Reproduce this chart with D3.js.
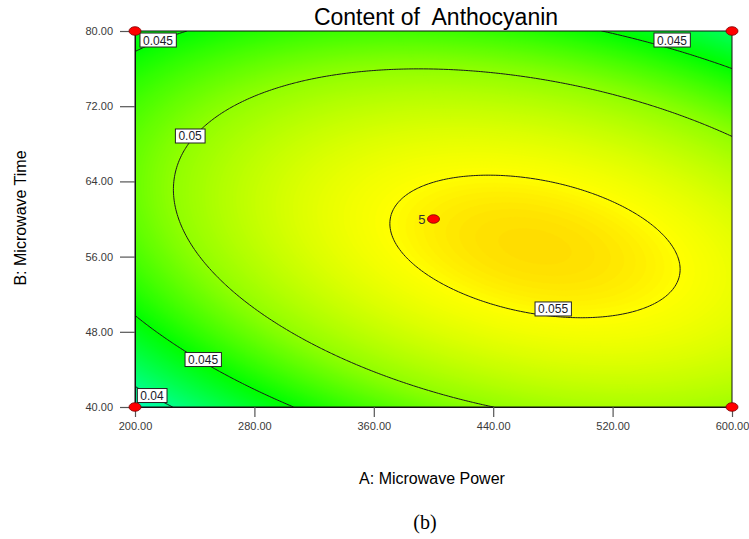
<!DOCTYPE html>
<html><head><meta charset="utf-8">
<script src="https://cdn.jsdelivr.net/npm/d3@7"></script>
<style>body{margin:0;background:#fff}</style>
</head><body>
<svg id="chart" width="749" height="539"></svg>
<script>
// ---------- data ----------
const title = "Content of  Anthocyanin";
const xLabel = "A: Microwave Power";
const yLabel = "B: Microwave Time";
const caption = "(b)";
const xTicks = [200, 280, 360, 440, 520, 600];
const yTicks = [40, 48, 56, 64, 72, 80];
// quadratic response-surface model in coded units: A=(power-400)/200, B=(time-60)/20
const modelTerms = ["Intercept", "A", "B", "AB", "A^2", "B^2"];
const modelCoefficients = [0.055463, 0.002535, -0.000909, -0.003721, -0.004527, -0.007444];
const contourLevels = [0.04, 0.045, 0.05, 0.055];
const labelText = ["0.045", "0.045", "0.05", "0.045", "0.04", "0.055"];
const labelPower = [215.4, 559.8, 236.9, 245.6, 211.4, 480.1];
const labelTime = [79.04, 79.04, 68.83, 45.05, 41.22, 50.43];
const designPower = [200, 200, 600, 600, 400];
const designTime = [40, 80, 40, 80, 60];
const designReplicates = [1, 1, 1, 1, 5];

// ---------- layout ----------
const svg = d3.select("#chart");
const L = 135, T = 31, W = 597, H = 376;
const xs = d3.scaleLinear().domain([200, 600]).range([L, L + W]);
const ys = d3.scaleLinear().domain([40, 80]).range([T + H, T]);
const sans = "Arial, 'Liberation Sans', sans-serif";

function model(p, t) {
  const A = (p - 400) / 200, B = (t - 60) / 20;
  const c = modelCoefficients;
  return c[0] + c[1] * A + c[2] * B + c[3] * A * B + c[4] * A * A + c[5] * B * B;
}

const nx = 241, ny = 161;
const values = new Array(nx * ny);
for (let j = 0; j < ny; j++) for (let i = 0; i < nx; i++) {
  values[j * nx + i] = model(200 + i * 400 / (nx - 1), 40 + j * 40 / (ny - 1));
}
const proj = d3.geoTransform({
  point: function (x, y) {
    this.stream.point(xs(200 + (x - 0.5) * 400 / (nx - 1)), ys(40 + (y - 0.5) * 40 / (ny - 1)));
  }
});
const path = d3.geoPath(proj);

const hue = d3.scaleLinear().domain([0.0385, 0.045, 0.05, 0.055, 0.0562]).range([162, 120, 86, 60, 50]).clamp(true);
const colorOf = v => d3.hsl(hue(v), 1, 0.5).toString();

svg.append("defs").append("clipPath").attr("id", "clip")
  .append("rect").attr("x", L).attr("y", T).attr("width", W).attr("height", H);

const plot = svg.append("g").attr("clip-path", "url(#clip)");
const step = 0.0001;
const bands = d3.range(0.036, 0.0565, step);
const contours = d3.contours().size([nx, ny]).thresholds(bands)(values);
plot.append("g").selectAll("path").data(contours).join("path")
  .attr("d", path)
  .attr("fill", d => colorOf(d.value + step / 2))
  .attr("stroke", d => colorOf(d.value + step / 2))
  .attr("stroke-width", 0.6);

const lines = d3.contours().size([nx, ny]).thresholds(contourLevels)(values);
plot.append("g").selectAll("path").data(lines).join("path")
  .attr("d", path)
  .attr("fill", "none")
  .attr("stroke", "#1a1a1a")
  .attr("stroke-width", 1);

// frame
svg.append("rect").attr("x", L).attr("y", T).attr("width", W).attr("height", H)
  .attr("fill", "none").attr("stroke", "#111").attr("stroke-width", 1);

// axes
const yAxis = d3.axisLeft(ys).tickValues(yTicks).tickFormat(d3.format(".2f")).tickSize(15).tickSizeOuter(0).tickPadding(7);
const gy = svg.append("g").attr("transform", `translate(${L},0)`).call(yAxis);
const xAxis = d3.axisBottom(xs).tickValues(xTicks).tickFormat(d3.format(".2f")).tickSize(10).tickSizeOuter(0).tickPadding(5);
const gx = svg.append("g").attr("transform", `translate(0,${T + H})`).call(xAxis);
[gx, gy].forEach(g => {
  g.select(".domain").attr("stroke", "#111");
  g.selectAll(".tick line").attr("stroke", "#555").attr("stroke-width", 1.2);
  g.selectAll(".tick text").attr("fill", "#3a3a3a").style("font", "11px " + sans);
});

// contour labels
const lab = svg.append("g");
labelText.forEach((t, k) => {
  const cx = xs(labelPower[k]), cy = ys(labelTime[k]);
  const g = lab.append("g");
  const txt = g.append("text").attr("x", cx).attr("y", cy + 4.5).attr("text-anchor", "middle")
    .attr("fill", "#1a1a2a").style("font", "12px " + sans).text(t);
  const bb = txt.node().getBBox();
  g.insert("rect", "text").attr("x", bb.x - 3).attr("y", cy - 7).attr("width", bb.width + 6).attr("height", 14)
    .attr("fill", "#fff").attr("stroke", "#222").attr("stroke-width", 1);
});

// design points
svg.append("g").selectAll("ellipse").data(designPower.map((p, i) => ({ p, t: designTime[i], n: designReplicates[i] })))
  .join("ellipse")
  .attr("cx", d => xs(d.p)).attr("cy", d => ys(d.t)).attr("rx", 6).attr("ry", 4.3)
  .attr("fill", "#ff0000").attr("stroke", "#7a0000").attr("stroke-width", 0.8);
designPower.forEach((p, i) => {
  if (designReplicates[i] > 1) {
    svg.append("text").attr("x", xs(p) - 8).attr("y", ys(designTime[i]) + 4.5).attr("text-anchor", "end")
      .attr("fill", "#333").style("font", "13px " + sans).text(designReplicates[i]);
  }
});

// titles
svg.append("text").attr("x", 436).attr("y", 25).attr("text-anchor", "middle")
  .style("font", "23px " + sans).style("white-space", "pre").attr("fill", "#000").text(title);
svg.append("text").attr("x", 432).attr("y", 484).attr("text-anchor", "middle")
  .style("font", "16px " + sans).attr("fill", "#000").text(xLabel);
svg.append("text").attr("transform", "translate(26,218) rotate(-90)").attr("text-anchor", "middle")
  .style("font", "16px " + sans).attr("fill", "#000").text(yLabel);
svg.append("text").attr("x", 425).attr("y", 529).attr("text-anchor", "middle")
  .style("font", "20px 'Liberation Serif', 'Times New Roman', serif").attr("fill", "#000").text(caption);
</script>
</body></html>
